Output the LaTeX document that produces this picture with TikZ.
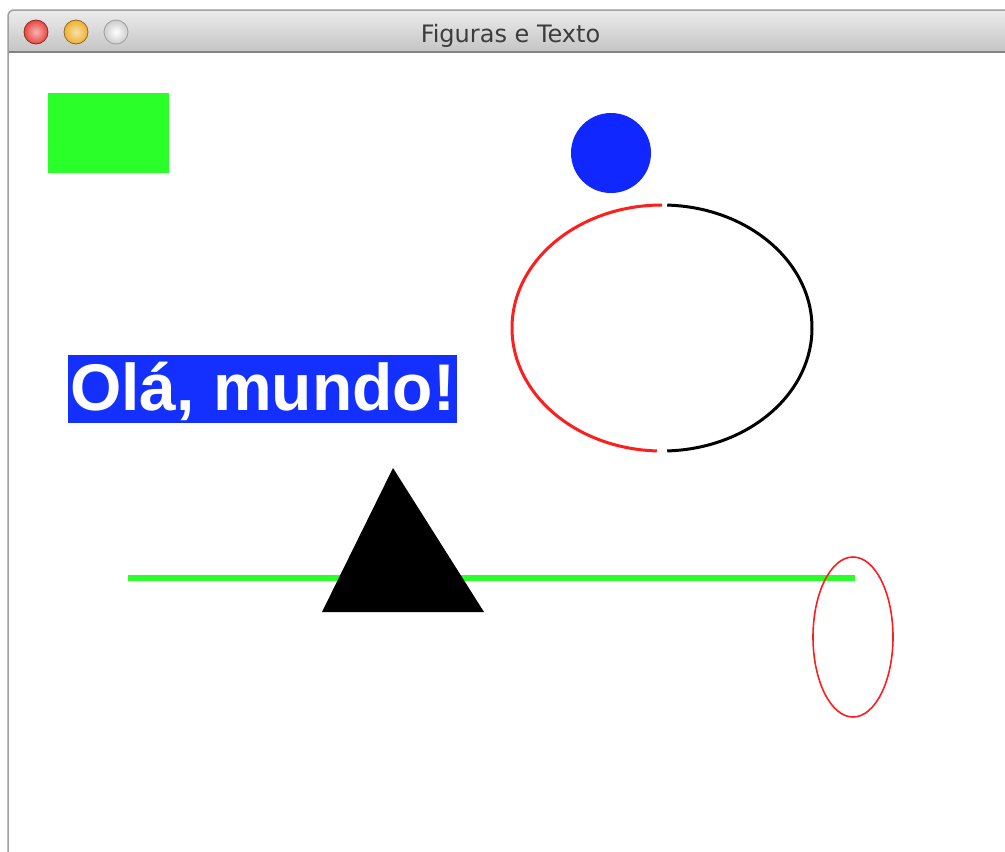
\documentclass[tikz,border=0pt]{standalone}
\usepackage{fontspec}
\setmainfont{Liberation Sans}
\newfontfamily\titlefont{DejaVu Sans}
\definecolor{limeg}{RGB}{42,255,42}
\definecolor{vblue}{RGB}{16,40,255}
\definecolor{tblue}{RGB}{20,48,255}
\definecolor{barTop}{RGB}{236,236,236}
\definecolor{barBot}{RGB}{196,196,196}
\definecolor{barLine}{RGB}{130,130,130}
\definecolor{winEdge}{RGB}{160,160,160}
\definecolor{titleText}{RGB}{60,60,60}
\definecolor{vred}{RGB}{255,30,30}
\definecolor{btnRed}{RGB}{232,70,64}
\definecolor{btnYel}{RGB}{240,176,48}
\begin{document}
\begin{tikzpicture}[x=1pt,y=-1pt,
  light/.style={line width=0.8pt},
  thinred/.style={draw=vred, line width=1.6pt},
  arcline/.style={line width=3pt}]
\useasboundingbox (0,0) rectangle (1005,852);
\fill[white] (0,0) rectangle (1005,852);
% window
\shade[top color=barTop, bottom color=barBot]
  (8,52) -- (8,16) arc[start angle=180,end angle=270,radius=6] -- (1005,10) -- (1005,52) -- cycle;
\draw[barLine, line width=1.5pt] (8,52) -- (1005,52);
\draw[winEdge, line width=1.5pt] (8,852) -- (8,16) arc[start angle=180,end angle=270,radius=6] -- (1005,10);
% traffic lights
\shade[inner color=btnRed!40!white, outer color=btnRed] (36,32) circle[radius=12];
\draw[btnRed!60!black, light] (36,32) circle[radius=12];
\shade[inner color=btnYel!40!white, outer color=btnYel] (76,32) circle[radius=12];
\draw[btnYel!60!black, light] (76,32) circle[radius=12];
\shade[inner color=white, outer color=gray!40] (116,32) circle[radius=12];
\draw[gray!75, light] (116,32) circle[radius=12];
\node[font=\titlefont\fontsize{24}{24}\selectfont, text=titleText, anchor=base, inner sep=0] (title) at (510.5,42) {Figuras e Texto};
% green rectangle
\fill[limeg] (48,93) rectangle (169,173);
% blue circle
\fill[vblue] (611,153) circle[radius=40];
% big ellipse
\draw[vred, arcline] (662,205) arc[start angle=270, end angle=92, x radius=150, y radius=123];
\draw[black, arcline] (662,328) ++(-88:150 and 123) arc[start angle=-88, end angle=88, x radius=150, y radius=123];
% text box
\fill[tblue] (68,355) rectangle (457,423);
\node[font=\bfseries\fontsize{66}{66}\selectfont, text=white, anchor=base west, inner sep=0] (hello) at (70,410) {Olá, mundo!};
% green line
\draw[limeg, line width=6pt] (128,578) -- (855,578);
% triangle
\fill[black] (393,468) -- (484,612) -- (322,612) -- cycle;
% small ellipse
\draw[thinred] (853,637) ellipse[x radius=40, y radius=80];
\end{tikzpicture}
\end{document}
